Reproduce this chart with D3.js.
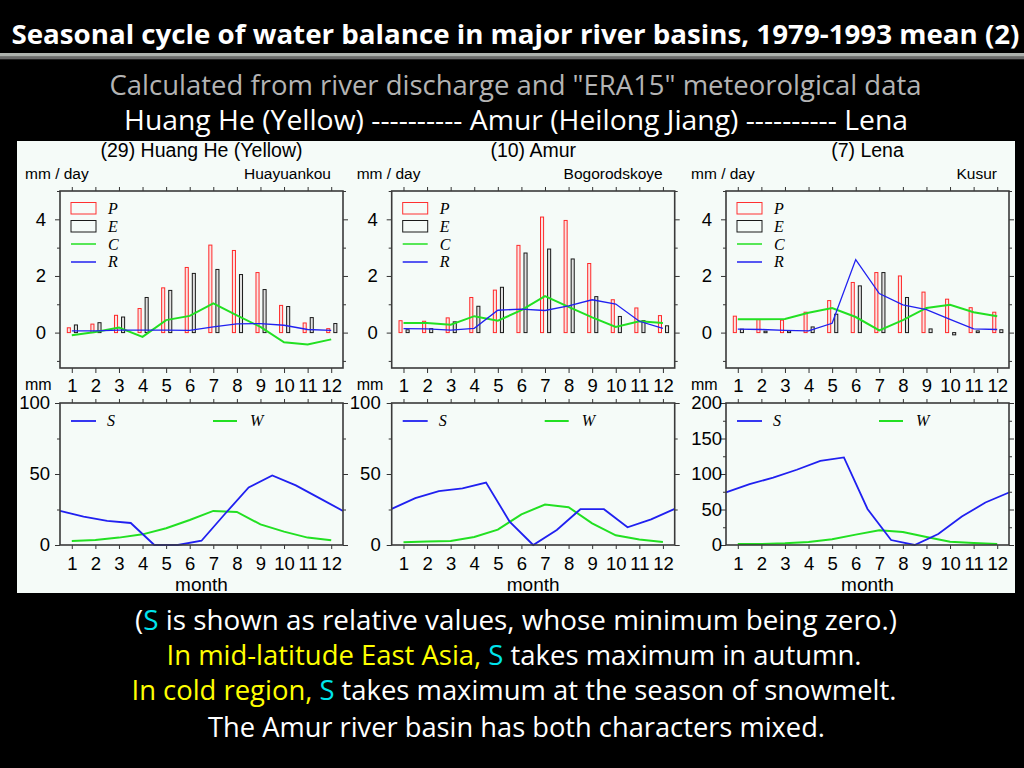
<!DOCTYPE html>
<html><head><meta charset="utf-8">
<script src="https://cdn.jsdelivr.net/npm/d3@7"></script>
<style>body{margin:0;background:#000;} svg{display:block}</style>
</head><body><svg id="c" width="1024" height="768"></svg>
<script>
// ---------- DATA ----------
const months = [1,2,3,4,5,6,7,8,9,10,11,12];
const monthEnds = [0.5,1.5,2.5,3.5,4.5,5.5,6.5,7.5,8.5,9.5,10.5,11.5,12.5];
const topYLabels = [0,2,4];
const topYMinor = [-1,1,3,5];

const huangP = [0.17,0.30,0.61,0.85,1.58,2.30,3.09,2.90,2.12,0.96,0.34,0.14];
const huangE = [0.27,0.35,0.55,1.24,1.49,2.09,2.23,2.05,1.52,0.92,0.53,0.32];
const huangC = [-0.09,0.02,0.18,-0.15,0.44,0.59,1.03,0.61,0.20,-0.34,-0.42,-0.24];
const huangR = [0.06,0.06,0.09,0.09,0.09,0.08,0.20,0.31,0.32,0.26,0.11,0.08];
const huangS = [24,20,17,15.5,0,0,3,22,40.5,49,42,33,24];
const huangW = [2.8,3.5,5.2,7.5,11.8,17.6,24,23.3,14.5,9.4,5.2,3.3];

const amurP = [0.42,0.40,0.52,1.24,1.50,3.08,4.08,3.96,2.44,1.16,0.87,0.60];
const amurE = [0.10,0.14,0.38,0.93,1.60,2.81,2.95,2.60,1.27,0.57,0.42,0.24];
const amurC = [0.34,0.34,0.28,0.58,0.42,0.79,1.29,0.91,0.54,0.20,0.40,0.34];
const amurR = [0.14,0.13,0.09,0.15,0.79,0.83,0.78,0.94,1.16,1.01,0.40,0.15];
const amurS = [25.4,33,38,39.8,44,16.5,0,10.6,25.2,25.2,12.5,18,25.4];
const amurW = [1.9,2.4,2.8,5.6,10.8,21.6,28.5,26.6,15.3,6.8,3.8,2.1];

const lenaP = [0.58,0.46,0.44,0.72,1.13,1.77,2.12,2.00,1.43,1.18,0.88,0.72];
const lenaE = [0.12,0.05,0.06,0.20,0.65,1.65,2.12,1.24,0.13,-0.08,0.06,0.10];
const lenaC = [0.47,0.47,0.48,0.70,0.87,0.55,0.08,0.44,0.87,0.98,0.72,0.58];
const lenaR = [0.12,0.11,0.08,0.06,0.33,2.58,1.38,0.98,0.81,0.47,0.13,0.11];
const lenaS = [74,85.6,95,106,118.6,123.3,50.8,7,0,15.5,40,59.8,74];
const lenaW = [1.4,1.4,2.4,4.2,8,14.6,20.7,18.4,11.3,4.7,2.8,1.4];

const panelTitles = ["(29) Huang He (Yellow)", "(10) Amur", "(7) Lena"];
const stations = ["Huayuankou", "Bogorodskoye", "Kusur"];
const bottomMax = [100, 100, 200];
const bottomLabels = [[0,50,100],[0,50,100],[0,50,100,150,200]];
const bottomMinor = [[25,75],[25,75],[25,75,125,175]];

// ---------- LAYOUT ----------
const svg = d3.select("#c");
const W = 1024, H = 768;
svg.append("rect").attr("width",W).attr("height",H).attr("fill","#000");

const BG = "#f5fbf8";
svg.append("rect").attr("x",17).attr("y",141).attr("width",998).attr("height",452).attr("fill",BG);

const frameL = [60, 391.7, 726];
const frameW = 283;
const topY0 = 191, topY1 = 368, botY0 = 403, botY1 = 545;
const labelFont = "'Liberation Sans', Arial, Helvetica, sans-serif";
const botGap = [10, 11, 4];

const panels = [
  {P:huangP,E:huangE,C:huangC,R:huangR,S:huangS,Wt:huangW},
  {P:amurP,E:amurE,C:amurC,R:amurR,S:amurS,Wt:amurW},
  {P:lenaP,E:lenaE,C:lenaC,R:lenaR,S:lenaS,Wt:lenaW}
];

function styleAxis(g){
  g.select(".domain").remove();
  g.selectAll(".tick line").attr("stroke","#333").attr("stroke-width",1);
  g.selectAll(".tick text").attr("fill","#000").attr("font-family",labelFont).attr("font-size",18.5);
}

panels.forEach((d,i)=>{
  const L = frameL[i], R = L + frameW;
  const x = d3.scaleLinear().domain([0.5,12.5]).range([L,R]);
  const yT = d3.scaleLinear().domain([-1.25,5]).range([topY1,topY0]);
  const yB = d3.scaleLinear().domain([0,bottomMax[i]]).range([botY1,botY0]);

  svg.append("text").attr("x",(L+R)/2).attr("y",157).attr("text-anchor","middle")
    .attr("font-family",labelFont).attr("font-size",19.5).attr("fill","#000").text(panelTitles[i]);
  svg.append("text").attr("x",L-35).attr("y",179).attr("font-family",labelFont)
    .attr("font-size",15.5).attr("fill","#000").text("mm / day");
  svg.append("text").attr("x",R-12).attr("y",179).attr("text-anchor","end").attr("font-family",labelFont)
    .attr("font-size",15.5).attr("fill","#000").text(stations[i]);
  svg.append("text").attr("x",L-35).attr("y",389.5).attr("font-family",labelFont)
    .attr("font-size",16).attr("fill","#000").text("mm");
  svg.append("text").attr("x",(L+R)/2).attr("y",591).attr("text-anchor","middle").attr("font-family",labelFont)
    .attr("font-size",19).attr("fill","#000").text("month");

  // ---- TOP PANEL ----
  const gt = svg.append("g");
  gt.append("g").attr("transform",`translate(0,${topY1})`)
    .call(d3.axisBottom(x).tickValues(months).tickSize(5).tickPadding(6).tickFormat(d3.format("d"))).call(styleAxis);
  gt.append("g").attr("transform",`translate(0,${topY0})`)
    .call(d3.axisTop(x).tickValues(months).tickSize(4).tickFormat("")).call(styleAxis);
  gt.append("g").attr("transform",`translate(${L},0)`)
    .call(d3.axisLeft(yT).tickValues(topYLabels).tickSize(5).tickPadding(9).tickFormat(d3.format("d"))).call(styleAxis);
  gt.append("g").attr("transform",`translate(${L},0)`)
    .call(d3.axisLeft(yT).tickValues(topYMinor).tickSize(3).tickFormat("")).call(styleAxis);
  gt.append("g").attr("transform",`translate(${R},0)`)
    .call(d3.axisRight(yT).tickValues(topYLabels).tickSize(5).tickFormat("")).call(styleAxis);
  gt.append("g").attr("transform",`translate(${R},0)`)
    .call(d3.axisRight(yT).tickValues(topYMinor).tickSize(3).tickFormat("")).call(styleAxis);

  const bw = x(0.63)-x(0.5);
  gt.selectAll(".p").data(d.P).enter().append("rect")
    .attr("x",(v,j)=>x(months[j]-0.19)).attr("width",bw)
    .attr("y",v=>Math.min(yT(v),yT(0))).attr("height",v=>Math.abs(yT(v)-yT(0)))
    .attr("fill","#fbe3e3").attr("stroke","#ff2a2a").attr("stroke-width",1);
  gt.selectAll(".e").data(d.E).enter().append("rect")
    .attr("x",(v,j)=>x(months[j]+0.11)).attr("width",bw)
    .attr("y",v=>Math.min(yT(v),yT(0))).attr("height",v=>Math.max(1.5,Math.abs(yT(v)-yT(0))))
    .attr("fill","#e2e2e2").attr("stroke","#1a1a1a").attr("stroke-width",1);
  const lineT = d3.line().x((v,j)=>x(months[j])).y(v=>yT(v));
  gt.append("path").datum(d.C).attr("d",lineT).attr("fill","none").attr("stroke","#22e022").attr("stroke-width",2);
  gt.append("path").datum(d.R).attr("d",lineT).attr("fill","none").attr("stroke","#2020f0").attr("stroke-width",1.3);

  const lg = gt.append("g");
  lg.append("rect").attr("x",L+11).attr("y",202.5).attr("width",25).attr("height",11.5).attr("fill","none").attr("stroke","#ff3030").attr("stroke-width",1);
  lg.append("rect").attr("x",L+11).attr("y",220.5).attr("width",25).attr("height",11.5).attr("fill","none").attr("stroke","#1a1a1a").attr("stroke-width",1);
  lg.append("line").attr("x1",L+11).attr("x2",L+36).attr("y1",244).attr("y2",244).attr("stroke","#22e022").attr("stroke-width",1.5);
  lg.append("line").attr("x1",L+11).attr("x2",L+36).attr("y1",262).attr("y2",262).attr("stroke","#2020f0").attr("stroke-width",1.5);
  [["P",213.5],["E",231.5],["C",249.5],["R",267]].forEach(([t,yy])=>{
    lg.append("text").attr("x",L+48).attr("y",yy).attr("font-family","'Liberation Serif','Times New Roman',serif")
      .attr("font-style","italic").attr("font-size",16).attr("fill","#000").text(t);
  });

  gt.append("rect").attr("x",L).attr("y",topY0).attr("width",frameW).attr("height",topY1-topY0)
    .attr("fill","none").attr("stroke","#3a3a3a").attr("stroke-width",1.6);

  // ---- BOTTOM PANEL ----
  const gb = svg.append("g");
  gb.append("g").attr("transform",`translate(0,${botY1})`)
    .call(d3.axisBottom(x).tickValues(months).tickSize(4).tickPadding(8).tickFormat(d3.format("d"))).call(styleAxis);
  gb.append("g").attr("transform",`translate(0,${botY0})`)
    .call(d3.axisTop(x).tickValues(months).tickSize(4).tickFormat("")).call(styleAxis);
  gb.append("g").attr("transform",`translate(${L},0)`)
    .call(d3.axisLeft(yB).tickValues(bottomLabels[i]).tickSize(5).tickPadding(botGap[i]-5).tickFormat(d3.format("d"))).call(styleAxis);
  gb.append("g").attr("transform",`translate(${L},0)`)
    .call(d3.axisLeft(yB).tickValues(bottomMinor[i]).tickSize(3).tickFormat("")).call(styleAxis);
  gb.append("g").attr("transform",`translate(${R},0)`)
    .call(d3.axisRight(yB).tickValues(bottomLabels[i]).tickSize(5).tickFormat("")).call(styleAxis);
  gb.append("g").attr("transform",`translate(${R},0)`)
    .call(d3.axisRight(yB).tickValues(bottomMinor[i]).tickSize(3).tickFormat("")).call(styleAxis);

  const lineS = d3.line().x((v,j)=>x(monthEnds[j])).y(v=>yB(v));
  const lineW = d3.line().x((v,j)=>x(months[j])).y(v=>yB(v));
  gb.append("path").datum(d.Wt).attr("d",lineW).attr("fill","none").attr("stroke","#22e022").attr("stroke-width",2);
  gb.append("path").datum(d.S).attr("d",lineS).attr("fill","none").attr("stroke","#2020f0").attr("stroke-width",1.8);

  gb.append("line").attr("x1",L+11).attr("x2",L+36).attr("y1",421).attr("y2",421).attr("stroke","#2020f0").attr("stroke-width",1.8);
  gb.append("line").attr("x1",L+153).attr("x2",L+177).attr("y1",421).attr("y2",421).attr("stroke","#22e022").attr("stroke-width",2);
  gb.append("text").attr("x",L+47).attr("y",426).attr("font-family","'Liberation Serif','Times New Roman',serif")
    .attr("font-style","italic").attr("font-size",16).attr("fill","#000").text("S");
  gb.append("text").attr("x",L+190).attr("y",426).attr("font-family","'Liberation Serif','Times New Roman',serif")
    .attr("font-style","italic").attr("font-size",16).attr("fill","#000").text("W");

  gb.append("rect").attr("x",L).attr("y",botY0).attr("width",frameW).attr("height",botY1-botY0)
    .attr("fill","none").attr("stroke","#3a3a3a").attr("stroke-width",1.6);
});

// ---------- SLIDE TEXT ----------
const slideFont = "'Open Sans','Noto Sans',sans-serif";
svg.append("text").attr("x",11.5).attr("y",43.5).attr("font-family",slideFont).attr("font-weight","bold")
  .attr("font-size",27).attr("fill","#fff").attr("textLength",1008).attr("lengthAdjust","spacingAndGlyphs")
  .text("Seasonal cycle of water balance in major river basins, 1979-1993 mean (2)");
svg.append("rect").attr("x",0).attr("y",53).attr("width",W).attr("height",3.7).attr("fill","#aeb2ae");
svg.append("rect").attr("x",0).attr("y",56.7).attr("width",W).attr("height",2.6).attr("fill","#6a6a6a");

svg.append("text").attr("x",109.5).attr("y",94.5).attr("font-family",slideFont)
  .attr("font-size",27).attr("fill","#b4b4b4").attr("textLength",812).attr("lengthAdjust","spacingAndGlyphs")
  .text('Calculated from river discharge and "ERA15" meteorolgical data');
svg.append("text").attr("x",124).attr("y",130).attr("font-family",slideFont)
  .attr("font-size",27).attr("fill","#fff").attr("textLength",784).attr("lengthAdjust","spacingAndGlyphs")
  .text("Huang He (Yellow) ---------- Amur (Heilong Jiang) ---------- Lena");

const CY = "#00e4ec", YE = "#ffff00", WH = "#ffffff";
const lines = [
  {x:135, y:629.5, len:762, parts:[["(",WH],["S",CY],[" is shown as relative values, whose minimum being zero.)",WH]]},
  {x:166.5, y:664.5, len:695, parts:[["In mid-latitude East Asia, ",YE],["S",CY],[" takes maximum in autumn.",WH]]},
  {x:131.5, y:700, len:765, parts:[["In cold region, ",YE],["S",CY],[" takes maximum at the season of snowmelt.",WH]]},
  {x:208, y:736.5, len:617, parts:[["The Amur river basin has both characters mixed.",WH]]}
];
lines.forEach(l=>{
  const t = svg.append("text").attr("x",l.x).attr("y",l.y).attr("font-family",slideFont)
    .attr("font-size",26.5).attr("textLength",l.len).attr("lengthAdjust","spacingAndGlyphs")
    .attr("xml:space","preserve").style("white-space","pre");
  l.parts.forEach(([s,c])=>t.append("tspan").attr("fill",c).text(s));
});
</script></body></html>
